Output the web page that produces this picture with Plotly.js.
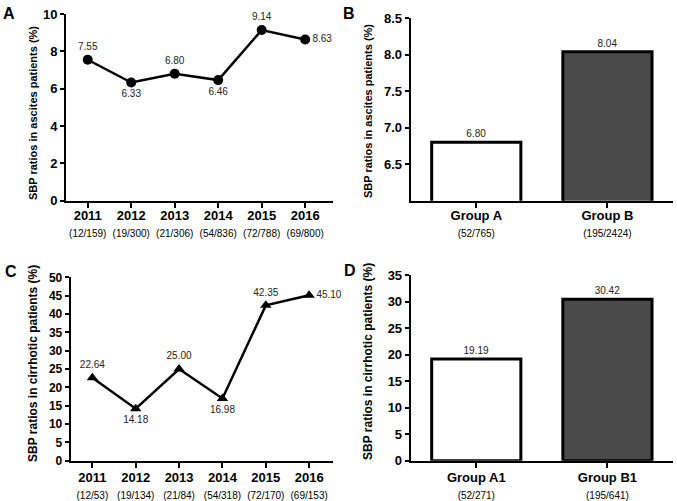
<!DOCTYPE html>
<html>
<head>
<meta charset="utf-8">
<script src="https://cdn.plot.ly/plotly-3.0.1.min.js"></script>
<style>html,body{margin:0;padding:0;background:#fff;}#chart{width:677px;height:501px;}</style>
</head>
<body>
<div id="chart"></div>
<script>
// ---- data ----
const years = ['2011', '2012', '2013', '2014', '2015', '2016'];
const countsA = ['12/159', '19/300', '21/306', '54/836', '72/788', '69/800'];
const ratesA = [7.55, 6.33, 6.80, 6.46, 9.14, 8.63];
const countsC = ['12/53', '19/134', '21/84', '54/318', '72/170', '69/153'];
const ratesC = [22.64, 14.18, 25.00, 16.98, 42.35, 45.10];
const groupsB = ['Group A', 'Group B'];
const countsB = ['52/765', '195/2424'];
const ratesB = [6.80, 8.04];
const groupsD = ['Group A1', 'Group B1'];
const countsD = ['52/271', '195/641'];
const ratesD = [19.19, 30.42];
const yTicksB = [6.5, 7.0, 7.5, 8.0, 8.5];
const titleAB = 'SBP ratios in ascites patients (%)';
const titleCD = 'SBP ratios in cirrhotic patients (%)';

const FONT = 'Arial, "Liberation Sans", sans-serif';
const W = 677, H = 501;
const px = v => v / W;
const py = v => (H - v) / H;

function tickText(labels, counts) {
  return labels.map((l, i) => '<b>' + l + '</b><br><span style="font-size:10px">(' + counts[i] + ')</span>');
}

const labelPosA = ['top center', 'bottom center', 'top center', 'bottom center', 'top center', 'middle right'];
const labelPosC = ['top center', 'bottom center', 'top center', 'bottom center', 'top center', 'middle right'];

const traces = [
  {
    x: years, y: ratesA, xaxis: 'x', yaxis: 'y', type: 'scatter', mode: 'lines+markers+text',
    line: {color: '#000', width: 2.5}, marker: {symbol: 'circle', size: 10, color: '#000'},
    texttemplate: '%{y:.2f}', textposition: labelPosA, textfont: {family: FONT, size: 10, color: '#222'},
    cliponaxis: false, hoverinfo: 'skip'
  },
  {
    x: groupsB, y: ratesB, xaxis: 'x2', yaxis: 'y2', type: 'bar',
    marker: {color: ['#ffffff', '#4a4a4a'], line: {color: '#000', width: 3}},
    texttemplate: '%{y:.2f}', textposition: 'outside', textfont: {family: FONT, size: 10, color: '#222'},
    cliponaxis: false, hoverinfo: 'skip'
  },
  {
    x: years, y: ratesC, xaxis: 'x3', yaxis: 'y3', type: 'scatter', mode: 'lines+markers+text',
    line: {color: '#000', width: 2.5}, marker: {symbol: 'triangle-up', size: 10, color: '#000'},
    texttemplate: '%{y:.2f}', textposition: labelPosC, textfont: {family: FONT, size: 10, color: '#222'},
    cliponaxis: false, hoverinfo: 'skip'
  },
  {
    x: groupsD, y: ratesD, xaxis: 'x4', yaxis: 'y4', type: 'bar',
    marker: {color: ['#ffffff', '#4a4a4a'], line: {color: '#000', width: 3}},
    texttemplate: '%{y:.2f}', textposition: 'outside', textfont: {family: FONT, size: 10, color: '#222'},
    cliponaxis: false, hoverinfo: 'skip'
  }
];

const axBase = {
  showgrid: false, zeroline: false, showline: true, linecolor: '#000', linewidth: 2,
  ticks: 'outside', ticklen: 5, tickwidth: 2, tickcolor: '#000', fixedrange: true
};

function xax(domain, anchor, cats, counts, range, standoff) {
  return Object.assign({}, axBase, {
    domain: domain, anchor: anchor, type: 'category', range: range,
    tickmode: 'array', tickvals: cats, ticktext: tickText(cats, counts),
    ticklabelstandoff: standoff,
    tickfont: {family: FONT, size: 13, color: '#000'}
  });
}
function yax(domain, anchor, range, extra, size) {
  return Object.assign({}, axBase, {
    domain: domain, anchor: anchor, range: range, ticklen: 4,
    tickfont: {family: FONT, size: size, color: '#000', weight: 'bold'}
  }, extra);
}

function ann(text, x, y, size, angle) {
  return {text: text, x: px(x), y: py(y), xref: 'paper', yref: 'paper',
    xanchor: 'center', yanchor: 'middle', showarrow: false, textangle: angle || 0,
    font: {family: FONT, size: size, color: '#000', weight: 'bold'}};
}

const layout = {
  width: W, height: H, margin: {l: 0, r: 0, t: 0, b: 0},
  paper_bgcolor: '#fff', plot_bgcolor: 'rgba(0,0,0,0)', showlegend: false,
  bargap: 0.32,
  font: {family: FONT, color: '#000'},
  xaxis: xax([px(66), px(333)], 'y', years, countsA, [-0.5, 5.64], -3),
  yaxis: yax([py(200.7), py(14)], 'x', [0, 10], {dtick: 2}, 13),
  xaxis2: xax([px(410.7), px(673)], 'y2', groupsB, countsB, [-0.5, 1.5], -3),
  yaxis2: yax([py(200.7), py(18.3)], 'x2', [6, 8.5], {tickmode: 'array', tickvals: yTicksB, tickformat: '.1f'}, 13),
  xaxis3: xax([px(70.7), px(333)], 'y3', years, countsC, [-0.5, 5.55], -1),
  yaxis3: yax([py(460.7), py(277.3)], 'x3', [0, 50], {dtick: 5}, 12),
  xaxis4: xax([px(410.7), px(673)], 'y4', groupsD, countsD, [-0.5, 1.5], -1),
  yaxis4: yax([py(460.7), py(275)], 'x4', [0, 35], {dtick: 5}, 13),
  annotations: [
    ann('A', 9, 14, 16), ann('B', 349, 13, 16), ann('C', 11, 271, 16), ann('D', 350, 270, 16),
    ann(titleAB, 33, 113, 11, -90), ann(titleAB, 368, 111, 11, -90),
    ann(titleCD, 33, 364, 12, -90), ann(titleCD, 368, 362, 12, -90)
  ]
};

Plotly.newPlot('chart', traces, layout, {staticPlot: true, displayModeBar: false});
</script>
</body>
</html>
